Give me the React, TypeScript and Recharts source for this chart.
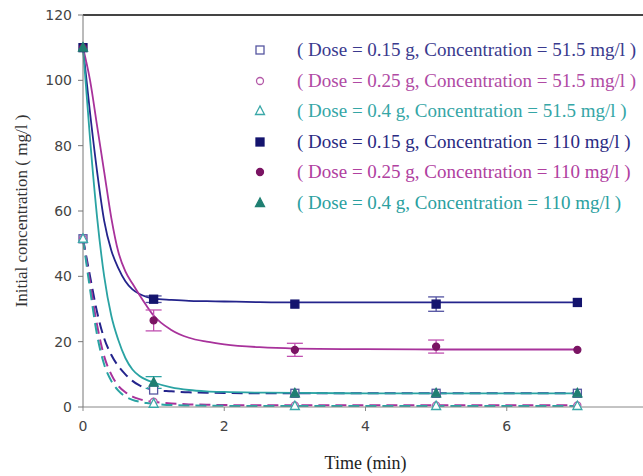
import React from "react";
import {
  ComposedChart,
  Line,
  Scatter,
  ErrorBar,
  XAxis,
  YAxis,
  ReferenceLine,
} from "recharts";

// measured points
const times = [0, 1, 3, 5, 7];
const low015 = [51.5, 5.2, 4.2, 4.2, 4.2];
const low025 = [51.5, 1.6, 0.5, 0.5, 0.5];
const low040 = [51.5, 1, 0.3, 0.3, 0.3];
const high015 = [110, 33, 31.5, 31.5, 32];
const high025 = [110, 26.5, 17.5, 18.5, 17.5];
const high040 = [110, 7.5, 4.2, 4.2, 4.2];
const err015 = [0, 1, 0, 2.2, 0];
const err025 = [0, 3.2, 2, 2, 0];
const err040 = [0, 1.8, 0, 0, 0];

// fitted curves
const fitT = [0, 0.1, 0.2, 0.3, 0.4, 0.5, 0.6, 0.7, 0.8, 0.9, 1, 1.25, 1.5, 1.75, 2, 2.5, 3, 4, 5, 6, 7];
const fitHigh015 = [110, 90, 72, 57, 48, 42.5, 38.5, 36, 34.6, 33.7, 33.2, 32.8, 32.5, 32.4, 32.3, 32.1, 32, 32, 32, 32, 32];
const fitHigh025 = [110, 100, 86, 72, 58, 47.5, 41.5, 37.8, 34.3, 31, 28, 23.6, 21.2, 20, 19.2, 18.3, 17.9, 17.7, 17.6, 17.6, 17.6];
const fitHigh040 = [110, 82, 58, 40, 28, 20.5, 15, 11.5, 9.5, 8.3, 7.5, 6, 5.2, 4.8, 4.6, 4.4, 4.3, 4.2, 4.2, 4.2, 4.2];
const fitLow015 = [51.5, 40, 29, 21, 16, 12.5, 10, 8, 6.6, 5.8, 5.2, 4.8, 4.5, 4.4, 4.3, 4.2, 4.2, 4.2, 4.2, 4.2, 4.2];
const fitLow025 = [51.5, 38, 25, 15.5, 10, 6.5, 4.5, 3.2, 2.4, 1.9, 1.6, 1.1, 0.8, 0.7, 0.6, 0.5, 0.5, 0.5, 0.5, 0.5, 0.5];
const fitLow040 = [51.5, 36, 22, 13, 8, 5, 3.2, 2.2, 1.6, 1.2, 1, 0.6, 0.45, 0.4, 0.35, 0.3, 0.3, 0.3, 0.3, 0.3, 0.3];

const legendLabels = [
  "( Dose = 0.15 g, Concentration = 51.5 mg/l )",
  "( Dose = 0.25 g, Concentration = 51.5 mg/l )",
  "( Dose = 0.4 g, Concentration = 51.5 mg/l )",
  "( Dose = 0.15 g, Concentration = 110 mg/l )",
  "( Dose = 0.25 g, Concentration = 110 mg/l )",
  "( Dose = 0.4 g, Concentration = 110 mg/l )",
];

const NAVY = "#24248c";
const MAG = "#a8329b";
const TEAL = "#2aa3a3";

const pts = (vals: number[], errs?: number[]) =>
  times.map((t, i) => ({ t, v: vals[i], err: errs ? errs[i] : 0 }));
const fit = (vals: number[]) => fitT.map((t, i) => ({ t, v: vals[i] }));

type Kind = "square" | "circle" | "triangle";

function Marker({ kind, cx, cy, fill, stroke }: { kind: Kind; cx: number; cy: number; fill: string; stroke: string }) {
  if (kind === "square")
    return <rect x={cx - 4} y={cy - 4} width={8} height={8} fill={fill} stroke={stroke} strokeWidth={1.3} />;
  if (kind === "circle") return <circle cx={cx} cy={cy} r={3.5} fill={fill} stroke={stroke} strokeWidth={1.3} />;
  return (
    <polygon
      points={`${cx},${cy - 5} ${cx - 4.5},${cy + 3.5} ${cx + 4.5},${cy + 3.5}`}
      fill={fill}
      stroke={stroke}
      strokeWidth={1.3}
    />
  );
}

const shape = (kind: Kind, fill: string, stroke: string) => (p: any) =>
  <Marker kind={kind} cx={p.cx} cy={p.cy} fill={fill} stroke={stroke} />;

const legendMarks: { kind: Kind; fill: string; stroke: string; color: string }[] = [
  { kind: "square", fill: "#fff", stroke: "#5656a0", color: "#3a3a8e" },
  { kind: "circle", fill: "#fff", stroke: "#b45aa8", color: "#b04aa4" },
  { kind: "triangle", fill: "#fff", stroke: "#3aa8a8", color: "#35a6a6" },
  { kind: "square", fill: "#14146e", stroke: "#14146e", color: "#2a2a82" },
  { kind: "circle", fill: "#7a1463", stroke: "#7a1463", color: "#b040a0" },
  { kind: "triangle", fill: "#1f7f72", stroke: "#1f7f72", color: "#2aa0a0" },
];

export default function App() {
  const serif = "'Liberation Serif', 'Times New Roman', serif";
  return (
    <div style={{ position: "absolute", left: 0, top: 0, width: 643, height: 476, overflow: "hidden", background: "#fff" }}>
      <ComposedChart width={660} height={476} margin={{ top: 15, right: 12, left: 0, bottom: 9 }}>
        <XAxis
          type="number"
          dataKey="t"
          domain={[0, 8]}
          ticks={[0, 2, 4, 6, 8]}
          height={60}
          stroke="#888"
          tickSize={4}
          tickMargin={10}
          tick={{ fontSize: 14, fill: "#444", fontFamily: "DejaVu Sans" }}
          label={{ value: "Time (min)", position: "insideBottom", offset: -2, fontSize: 18, fill: "#222", fontFamily: serif }}
        />
        <YAxis
          type="number"
          dataKey="v"
          domain={[0, 120]}
          ticks={[0, 20, 40, 60, 80, 100, 120]}
          width={83}
          stroke="#777"
          tickSize={5}
          tickMargin={6}
          tick={{ fontSize: 14, fill: "#444", fontFamily: "DejaVu Sans" }}
          label={{
            value: "Initial concentration ( mg/l )",
            angle: -90,
            position: "insideLeft",
            offset: 21,
            fontSize: 17,
            fill: "#333",
            fontFamily: serif,
            style: { textAnchor: "middle" },
          }}
        />
        <ReferenceLine y={120} stroke="#444" strokeWidth={2} />

        <Line data={fit(fitLow015)} dataKey="v" type="monotone" stroke={NAVY} strokeWidth={2} strokeDasharray="11 6" dot={false} isAnimationActive={false} />
        <Line data={fit(fitLow025)} dataKey="v" type="monotone" stroke={MAG} strokeWidth={2} strokeDasharray="11 6" dot={false} isAnimationActive={false} />
        <Line data={fit(fitLow040)} dataKey="v" type="monotone" stroke={TEAL} strokeWidth={2} strokeDasharray="11 6" dot={false} isAnimationActive={false} />
        <Line data={fit(fitHigh015)} dataKey="v" type="monotone" stroke={NAVY} strokeWidth={1.8} dot={false} isAnimationActive={false} />
        <Line data={fit(fitHigh025)} dataKey="v" type="monotone" stroke={MAG} strokeWidth={1.8} dot={false} isAnimationActive={false} />
        <Line data={fit(fitHigh040)} dataKey="v" type="monotone" stroke={TEAL} strokeWidth={1.8} dot={false} isAnimationActive={false} />

        <Scatter data={pts(low015)} dataKey="v" shape={shape("square", "#fff", "#5656a0")} isAnimationActive={false} />
        <Scatter data={pts(low025)} dataKey="v" shape={shape("circle", "#fff", "#b45aa8")} isAnimationActive={false} />
        <Scatter data={pts(low040)} dataKey="v" shape={shape("triangle", "#fff", "#3aa8a8")} isAnimationActive={false} />
        <Scatter data={pts(high015, err015)} dataKey="v" shape={shape("square", "#14146e", "#14146e")} isAnimationActive={false}>
          <ErrorBar dataKey="err" direction="y" width={8} stroke="#5050a0" strokeWidth={1.3} />
        </Scatter>
        <Scatter data={pts(high025, err025)} dataKey="v" shape={shape("circle", "#7a1463", "#7a1463")} isAnimationActive={false}>
          <ErrorBar dataKey="err" direction="y" width={8} stroke="#c050b0" strokeWidth={1.3} />
        </Scatter>
        <Scatter data={pts(high040, err040)} dataKey="v" shape={shape("triangle", "#1f7f72", "#1f7f72")} isAnimationActive={false}>
          <ErrorBar dataKey="err" direction="y" width={8} stroke="#2aa3a3" strokeWidth={1.3} />
        </Scatter>
      </ComposedChart>

      {legendLabels.map((label, i) => {
        const m = legendMarks[i];
        const y = 50 + i * 30.6;
        return (
          <div key={label} style={{ position: "absolute", left: 250, top: y - 11, height: 22, display: "flex", alignItems: "center" }}>
            <svg width={20} height={20} style={{ marginRight: 27 }}>
              <Marker kind={m.kind} cx={10} cy={10} fill={m.fill} stroke={m.stroke} />
            </svg>
            <span style={{ fontFamily: serif, fontSize: 19, color: m.color, whiteSpace: "nowrap" }}>{label}</span>
          </div>
        );
      })}
    </div>
  );
}
